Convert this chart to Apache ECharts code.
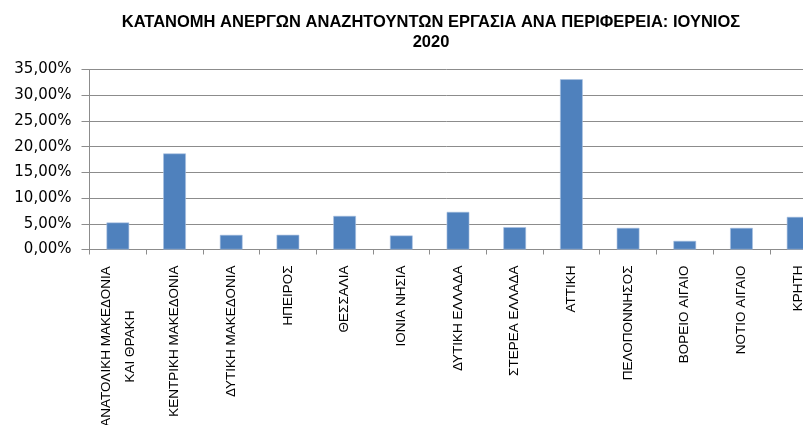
<!DOCTYPE html>
<html><head><meta charset="utf-8">
<script src="https://cdn.jsdelivr.net/npm/echarts@6/dist/echarts.min.js"></script>
<style>html,body{margin:0;padding:0;background:#fff}#c{width:803px;height:425px}</style>
</head><body><div id="c"></div>
<script>
const titleText = "ΚΑΤΑΝΟΜΗ ΑΝΕΡΓΩΝ ΑΝΑΖΗΤΟΥΝΤΩΝ ΕΡΓΑΣΙΑ ΑΝΑ ΠΕΡΙΦΕΡΕΙΑ: ΙΟΥΝΙΟΣ\n2020";
const categories = ["ΑΝΑΤΟΛΙΚΗ ΜΑΚΕΔΟΝΙΑ\nΚΑΙ ΘΡΑΚΗ","ΚΕΝΤΡΙΚΗ ΜΑΚΕΔΟΝΙΑ","ΔΥΤΙΚΗ ΜΑΚΕΔΟΝΙΑ","ΗΠΕΙΡΟΣ","ΘΕΣΣΑΛΙΑ","ΙΟΝΙΑ ΝΗΣΙΑ","ΔΥΤΙΚΗ ΕΛΛΑΔΑ","ΣΤΕΡΕΑ ΕΛΛΑΔΑ","ΑΤΤΙΚΗ","ΠΕΛΟΠΟΝΝΗΣΟΣ","ΒΟΡΕΙΟ ΑΙΓΑΙΟ","ΝΟΤΙΟ ΑΙΓΑΙΟ","ΚΡΗΤΗ"];
const values = [5.25,18.67,2.84,2.86,6.53,2.72,7.31,4.34,33.10,4.20,1.67,4.20,6.34];
const yMin = 0, yMax = 35, yStep = 5;

const labelFont = '"Liberation Sans",Arial,sans-serif';
const chart = echarts.init(document.getElementById('c'), null, {renderer:'canvas'});
chart.setOption({
  animation:false,
  backgroundColor:'#fff',
  title:{text:titleText,left:426,top:7,textAlign:'center',
    textStyle:{fontFamily:labelFont,fontSize:16.5,fontWeight:'bold',color:'#000',lineHeight:20}},
  grid:{left:89.5,top:69.5,width:737,height:180,containLabel:false,outerBoundsMode:'none'},
  xAxis:{type:'category',data:categories,
    axisLine:{lineStyle:{color:'#8c8c8c',width:1}},
    axisTick:{show:true,length:5,lineStyle:{color:'#8c8c8c'}},
    axisLabel:{rotate:90,interval:0,margin:16,color:'#000',fontSize:13.5,lineHeight:24,align:'right',
      fontFamily:labelFont,
      formatter:function(v){
        if(v.indexOf('\n')<0) return v;
        return v.split('\n').map(s=>'{c|'+s+'}').join('\n');
      },
      rich:{c:{width:162,align:'center',fontSize:13.5,lineHeight:24,fontFamily:labelFont,color:'#000'}}}},
  yAxis:{type:'value',min:yMin,max:yMax,interval:yStep,
    axisLine:{show:true,lineStyle:{color:'#8c8c8c'}},
    axisTick:{show:true,length:8,lineStyle:{color:'#8c8c8c'}},
    splitLine:{lineStyle:{color:'#8c8c8c',width:1}},
    axisLabel:{margin:18,color:'#000',fontSize:15,fontFamily:'"DejaVu Sans",sans-serif',
      formatter:v=>v.toFixed(2).replace('.',',')+'%'}},
  series:[{type:'bar',data:values,barWidth:'40%',
    itemStyle:{color:'#4F81BD',borderColor:'#a9c1e0',borderWidth:0.6}}]
});
</script></body></html>
